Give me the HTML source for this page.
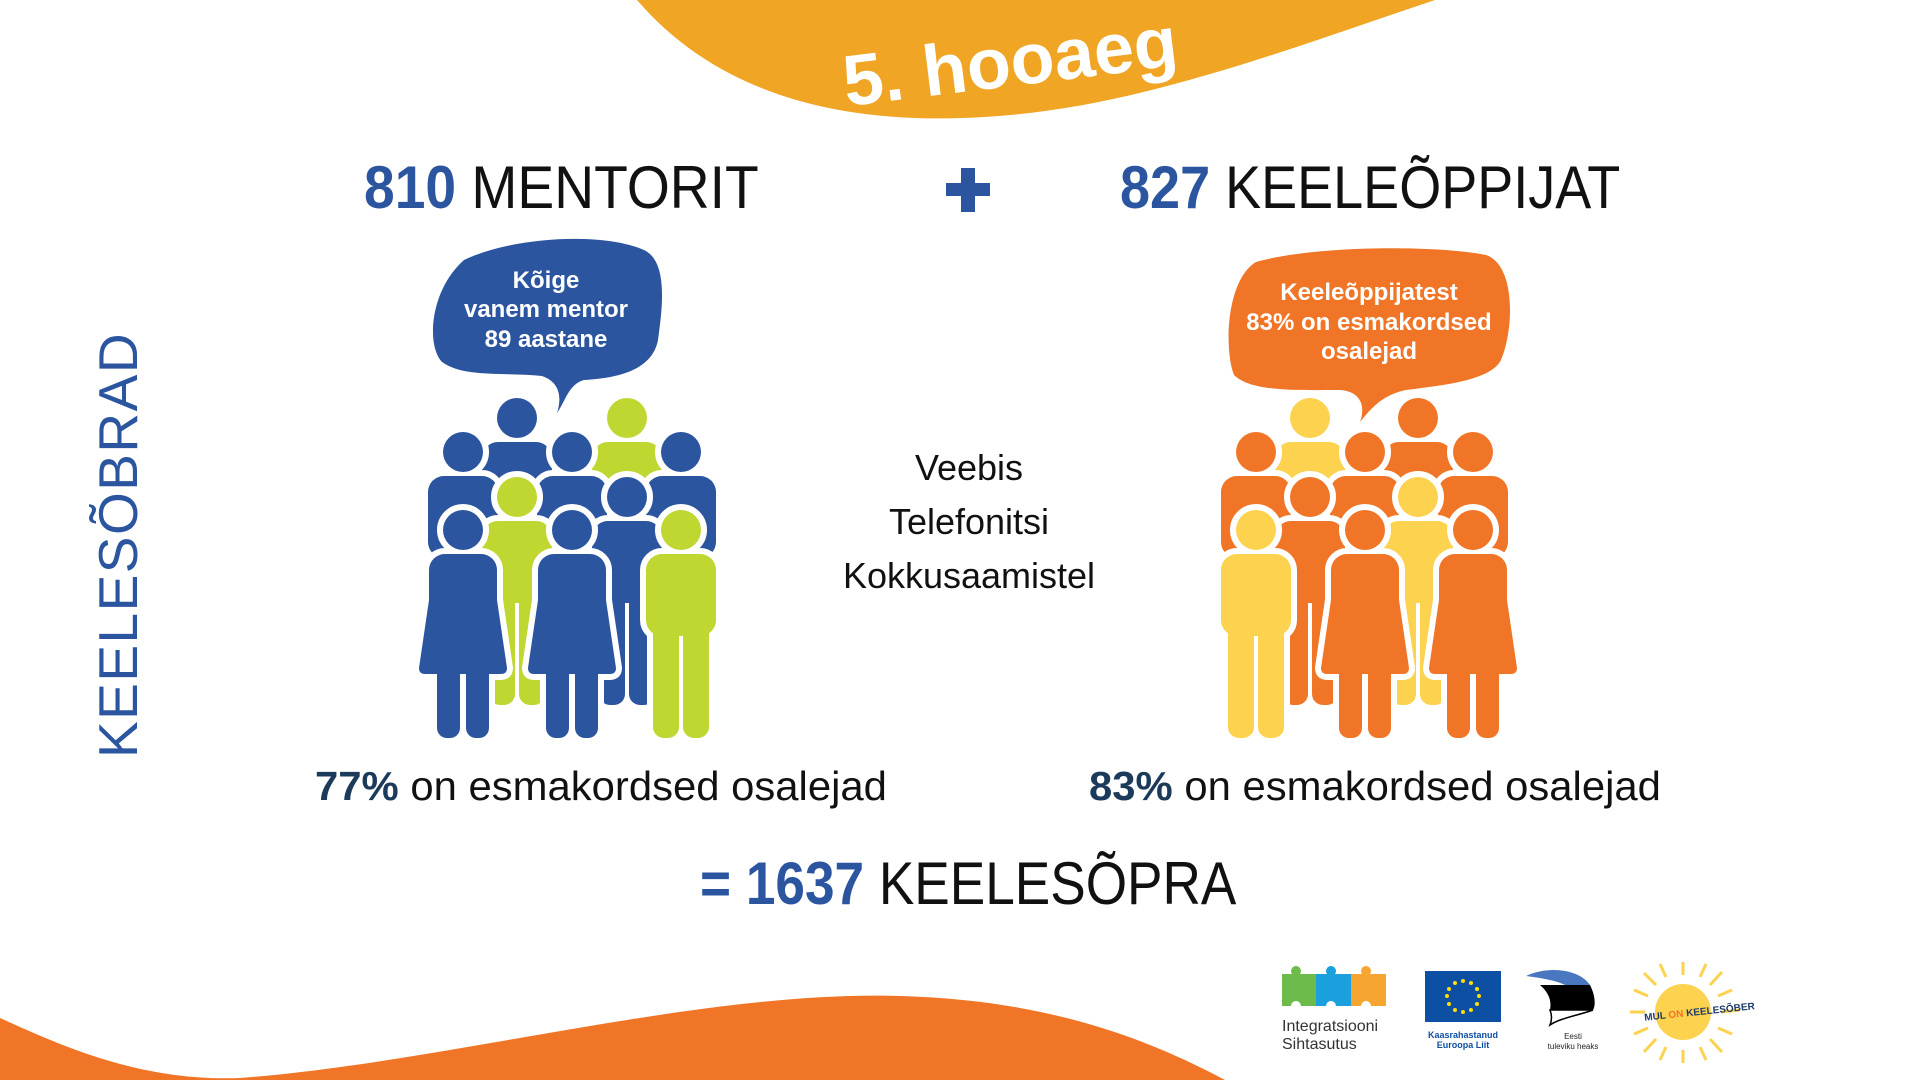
<!DOCTYPE html>
<html><head><meta charset="utf-8"><style>
html,body{margin:0;padding:0;background:#fff}
body{width:1920px;height:1080px;position:relative;overflow:hidden;font-family:"Liberation Sans",sans-serif}
.t{position:absolute;white-space:nowrap;transform-origin:0 0}
</style></head><body>
<svg width="1920" height="1080" style="position:absolute;left:0;top:0">
<defs>
<g id="man"><circle cx="0" cy="0" r="20"/><rect x="-35" y="24" width="70" height="82" rx="16"/><rect x="-28" y="90" width="26" height="118" rx="11"/><rect x="2" y="90" width="26" height="118" rx="11"/></g>
<g id="woman"><circle cx="0" cy="0" r="20"/><rect x="-34" y="24" width="68" height="66" rx="16"/><path d="M-34,70 L-44,138 Q-44,144 -38,144 L38,144 Q44,144 44,138 L34,70 Z"/><rect x="-26" y="130" width="23" height="78" rx="10"/><rect x="3" y="130" width="23" height="78" rx="10"/></g>
</defs>
<path d="M637,0 C740,120 900,125 1010,115 C1150,103 1300,45 1435,0 Z" fill="#f0a524"/>
<text x="1010" y="86" transform="rotate(-7 1010 60)" text-anchor="middle" font-family="Liberation Sans" font-weight="bold" font-size="72" fill="#fff">5. hooaeg</text>
<path d="M0,1018 C60,1045 140,1082 240,1078 C450,1062 700,990 900,996 C1050,1000 1150,1040 1225,1080 L0,1080 Z" fill="#f07526"/>
<path d="M464,260 C514,236 604,232 644,250 C669,262 662,310 658,340 C652,372 614,378 584,380 C569,384 566,400 557,413 C562,398 560,382 542,376 C504,372 464,378 442,362 C426,345 430,290 464,260 Z" fill="#2c55a0"/>
<path d="M1256,262 C1316,245 1436,245 1486,255 C1516,265 1514,330 1501,360 C1491,380 1446,385 1406,390 C1381,395 1370,410 1360,422 C1366,405 1360,392 1341,390 C1296,390 1251,392 1234,375 C1224,350 1226,280 1256,262 Z" fill="#f07526"/>
<g stroke-linejoin="round">
<use href="#man" x="517" y="418" fill="#fff" stroke="#fff" stroke-width="12"/><use href="#man" x="517" y="418" fill="#2c55a0"/>
<use href="#man" x="627" y="418" fill="#fff" stroke="#fff" stroke-width="12"/><use href="#man" x="627" y="418" fill="#c0d631"/>
<use href="#man" x="463" y="452" fill="#fff" stroke="#fff" stroke-width="12"/><use href="#man" x="463" y="452" fill="#2c55a0"/>
<use href="#man" x="572" y="452" fill="#fff" stroke="#fff" stroke-width="12"/><use href="#man" x="572" y="452" fill="#2c55a0"/>
<use href="#man" x="681" y="452" fill="#fff" stroke="#fff" stroke-width="12"/><use href="#man" x="681" y="452" fill="#2c55a0"/>
<use href="#man" x="517" y="497" fill="#fff" stroke="#fff" stroke-width="12"/><use href="#man" x="517" y="497" fill="#c0d631"/>
<use href="#man" x="627" y="497" fill="#fff" stroke="#fff" stroke-width="12"/><use href="#man" x="627" y="497" fill="#2c55a0"/>
<use href="#woman" x="463" y="530" fill="#fff" stroke="#fff" stroke-width="12"/><use href="#woman" x="463" y="530" fill="#2c55a0"/>
<use href="#woman" x="572" y="530" fill="#fff" stroke="#fff" stroke-width="12"/><use href="#woman" x="572" y="530" fill="#2c55a0"/>
<use href="#man" x="681" y="530" fill="#fff" stroke="#fff" stroke-width="12"/><use href="#man" x="681" y="530" fill="#c0d631"/>
<use href="#man" x="1310" y="418" fill="#fff" stroke="#fff" stroke-width="12"/><use href="#man" x="1310" y="418" fill="#fdd24f"/>
<use href="#man" x="1418" y="418" fill="#fff" stroke="#fff" stroke-width="12"/><use href="#man" x="1418" y="418" fill="#f07526"/>
<use href="#man" x="1256" y="452" fill="#fff" stroke="#fff" stroke-width="12"/><use href="#man" x="1256" y="452" fill="#f07526"/>
<use href="#man" x="1365" y="452" fill="#fff" stroke="#fff" stroke-width="12"/><use href="#man" x="1365" y="452" fill="#f07526"/>
<use href="#man" x="1473" y="452" fill="#fff" stroke="#fff" stroke-width="12"/><use href="#man" x="1473" y="452" fill="#f07526"/>
<use href="#man" x="1310" y="497" fill="#fff" stroke="#fff" stroke-width="12"/><use href="#man" x="1310" y="497" fill="#f07526"/>
<use href="#man" x="1418" y="497" fill="#fff" stroke="#fff" stroke-width="12"/><use href="#man" x="1418" y="497" fill="#fdd24f"/>
<use href="#man" x="1256" y="530" fill="#fff" stroke="#fff" stroke-width="12"/><use href="#man" x="1256" y="530" fill="#fdd24f"/>
<use href="#woman" x="1365" y="530" fill="#fff" stroke="#fff" stroke-width="12"/><use href="#woman" x="1365" y="530" fill="#f07526"/>
<use href="#woman" x="1473" y="530" fill="#fff" stroke="#fff" stroke-width="12"/><use href="#woman" x="1473" y="530" fill="#f07526"/>
</g>
<g font-family="Liberation Sans" font-weight="bold" font-size="24" fill="#fff" text-anchor="middle">
<text x="546" y="288">Kõige</text><text x="546" y="317">vanem mentor</text><text x="546" y="347">89 aastane</text>
<text x="1369" y="300">Keeleõppijatest</text><text x="1369" y="330">83% on esmakordsed</text><text x="1369" y="359">osalejad</text>
</g>
<text x="0" y="0" transform="translate(137 545) rotate(-90)" text-anchor="middle" font-family="Liberation Sans" font-size="55" letter-spacing="1.5" fill="#2c55a0">KEELESÕBRAD</text>
<rect x="946" y="183" width="44" height="13" fill="#2c55a0"/><rect x="961" y="168" width="14" height="44" fill="#2c55a0"/>
<g>
<rect x="1282" y="974" width="34" height="32" fill="#6dbb4a"/><rect x="1316" y="974" width="35" height="32" fill="#1aa0dc"/><rect x="1351" y="974" width="35" height="32" fill="#f7a531"/>
<circle cx="1296" cy="971" r="5" fill="#6dbb4a"/><circle cx="1331" cy="971" r="5" fill="#1aa0dc"/><circle cx="1366" cy="971" r="5" fill="#f7a531"/>
<circle cx="1296" cy="1006" r="5" fill="#fff"/><circle cx="1331" cy="1006" r="5" fill="#fff"/><circle cx="1366" cy="1006" r="5" fill="#fff"/>
<text x="1282" y="1031" font-family="Liberation Sans" font-size="16" fill="#333">Integratsiooni</text>
<text x="1282" y="1049" font-family="Liberation Sans" font-size="16" fill="#333">Sihtasutus</text>
<rect x="1425" y="971" width="76" height="51" fill="#0d4fa3"/>
<g fill="#ffdd00"><circle cx="1463" cy="981" r="2"/><circle cx="1471" cy="983" r="2"/><circle cx="1477" cy="989" r="2"/><circle cx="1479" cy="996" r="2"/><circle cx="1477" cy="1004" r="2"/><circle cx="1471" cy="1010" r="2"/><circle cx="1463" cy="1012" r="2"/><circle cx="1455" cy="1010" r="2"/><circle cx="1449" cy="1004" r="2"/><circle cx="1447" cy="996" r="2"/><circle cx="1449" cy="989" r="2"/><circle cx="1455" cy="983" r="2"/></g>
<text x="1463" y="1038" text-anchor="middle" font-family="Liberation Sans" font-weight="bold" font-size="9" fill="#0d4fa3">Kaasrahastanud</text>
<text x="1463" y="1048" text-anchor="middle" font-family="Liberation Sans" font-weight="bold" font-size="9" fill="#0d4fa3">Euroopa Liit</text>
<path d="M1526,976 C1550,965 1580,970 1590,985 L1565,985 C1555,980 1540,978 1526,976 Z" fill="#4a78c0"/>
<path d="M1540,985 L1590,985 C1595,995 1596,1005 1593,1010 L1550,1010 C1552,1000 1548,992 1540,985 Z" fill="#000"/>
<path d="M1550,1010 L1593,1010 C1580,1015 1560,1018 1550,1025 C1552,1020 1552,1015 1550,1010 Z" fill="#fff" stroke="#000" stroke-width="1.5"/>
<text x="1573" y="1039" text-anchor="middle" font-family="Liberation Sans" font-size="8" fill="#222">Eesti</text>
<text x="1573" y="1049" text-anchor="middle" font-family="Liberation Sans" font-size="8" fill="#222">tuleviku heaks</text>
<circle cx="1683" cy="1012" r="28" fill="#fdd24f"/>
<g stroke="#fdd24f" stroke-width="3">
<line x1="1683" y1="975" x2="1683" y2="962"/><line x1="1683" y1="1050" x2="1683" y2="1063"/><line x1="1645" y1="1012" x2="1630" y2="1012"/><line x1="1721" y1="1012" x2="1740" y2="1010"/>
<line x1="1710" y1="985" x2="1722" y2="972"/><line x1="1656" y1="985" x2="1644" y2="973"/><line x1="1710" y1="1039" x2="1722" y2="1052"/><line x1="1656" y1="1039" x2="1644" y2="1052"/>
<line x1="1700" y1="977" x2="1706" y2="964"/><line x1="1666" y1="977" x2="1660" y2="964"/><line x1="1700" y1="1047" x2="1706" y2="1060"/><line x1="1666" y1="1047" x2="1660" y2="1060"/>
<line x1="1718" y1="996" x2="1732" y2="990"/><line x1="1718" y1="1028" x2="1732" y2="1034"/><line x1="1648" y1="996" x2="1634" y2="990"/><line x1="1648" y1="1028" x2="1634" y2="1034"/>
</g>
<text x="1644" y="1016" transform="rotate(-6 1690 1012)" font-family="Liberation Sans" font-weight="bold" font-size="10" fill="#1e3a6a">MUL <tspan fill="#f07526">ON</tspan> KEELESÕBER</text>
</g>
</svg>
<div class="t" style="left:364px;top:153px;font-size:60px;color:#111;transform:scaleX(0.92)"><b style="color:#2c55a0">810</b> MENTORIT</div>
<div class="t" style="left:1120px;top:153px;font-size:60px;color:#111;transform:scaleX(0.9)"><b style="color:#2c55a0">827</b> KEELEÕPPIJAT</div>
<div class="t" style="left:769px;top:441px;width:400px;text-align:center;font-size:36px;line-height:54px;color:#111">Veebis<br>Telefonitsi<br>Kokkusaamistel</div>
<div class="t" style="left:315px;top:763px;font-size:41px;color:#111;transform:scaleX(1.02)"><b style="color:#1c3a5a">77%</b> on esmakordsed osalejad</div>
<div class="t" style="left:1089px;top:763px;font-size:41px;color:#111;transform:scaleX(1.02)"><b style="color:#1c3a5a">83%</b> on esmakordsed osalejad</div>
<div class="t" style="left:700px;top:849px;font-size:60px;color:#111;transform:scaleX(0.886)"><b style="color:#2c55a0">= 1637</b> KEELESÕPRA</div>
</body></html>
